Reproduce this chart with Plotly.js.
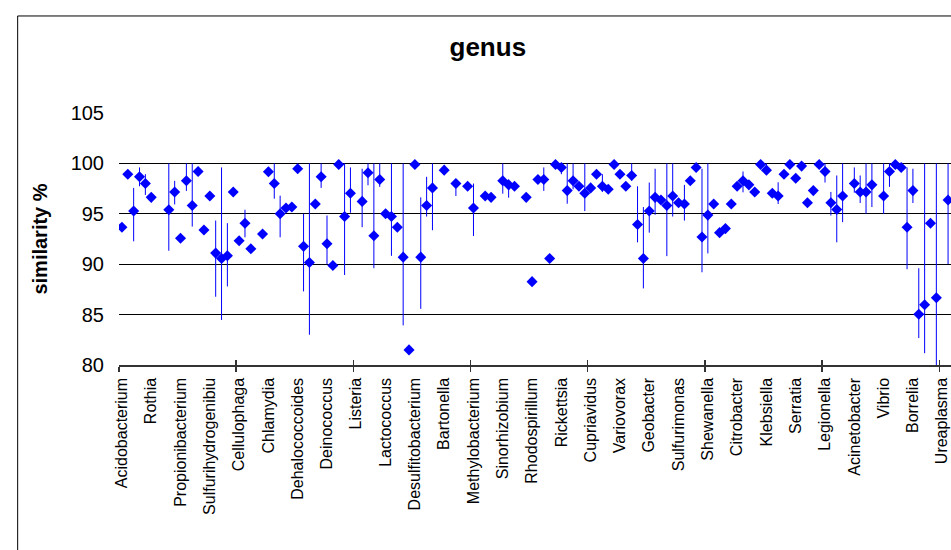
<!DOCTYPE html>
<html>
<head>
<meta charset="utf-8">
<script src="https://cdn.plot.ly/plotly-3.0.1.min.js"></script>
<style>html,body{margin:0;padding:0;background:#fff;}#chart{width:951px;height:550px;}</style>
</head>
<body>
<div id="chart"></div>
<script>
// Similarity % per genus (index = category position), null = no value
const similarity = [
  93.67, 98.93, 95.27, 98.67, 98.0, 96.63, null, null, 95.4, 97.17,
  92.57, 98.27, 95.83, 99.2, 93.4, 96.77, 91.1, 90.57, 90.83, 97.17,
  92.33, 94.07, 91.53, null, 93.0, 99.17, 98.0, 95.0, 95.57, 95.67,
  99.47, 91.77, 90.17, 95.97, 98.67, 92.03, 89.87, 99.9, 94.73, 97.03,
  null, 96.23, 99.07, 92.83, 98.4, 95.0, 94.73, 93.67, 90.7, 81.5,
  99.9, 90.7, 95.83, 97.57, null, 99.33, null, 98.0, null, 97.73,
  95.57, null, 96.77, 96.63, null, 98.27, 97.87, 97.73, null, 96.63,
  88.27, 98.4, 98.4, 90.57, 99.9, 99.6, 97.3, 98.27, 97.73, 97.03,
  97.57, 98.93, 97.73, 97.43, 99.9, 98.93, 97.73, 98.8, 93.93, 90.57,
  95.27, 96.63, 96.37, 95.83, 96.77, 96.1, 95.97, 98.27, 99.6, 92.7,
  94.87, 95.97, 93.13, 93.53, 95.97, 97.73, 98.27, 97.87, 97.17, 99.9,
  99.33, 97.03, 96.77, 98.93, 99.9, 98.53, 99.73, 96.1, 97.3, 99.9,
  99.2, 96.1, 95.43, 96.77, null, 98.0, 97.17, 97.17, 97.87, null,
  96.77, 99.2, 99.9, 99.6, 93.67, 97.3, 85.03, 85.97, 94.07, 86.67,
  null, 96.37
];
// Upper end of the range line (null = no line)
const upper = [
  null, null, 97.57, 99.6, 98.93, null, null, null, 100, 98.27,
  null, 100, 100, null, null, null, 94.33, 99.6, 94.07, null,
  null, 95.4, null, null, null, 99.6, 100, 96.8, null, null,
  null, 95.0, 100, null, 100, 94.83, null, null, 100, 99.6,
  null, 99.47, 100, 100, 100, null, 100, null, 100, null,
  null, 96.63, 98.67, 100, null, null, null, 98.4, null, null,
  98.0, null, null, null, null, 100, 98.4, null, null, null,
  null, null, 99.6, null, null, 100, 100, 100, null, 100,
  null, null, 98.93, null, null, null, null, 100, 97.73, 95.67,
  98.1, 99.47, null, 100, 100, null, 97.87, null, null, 99.47,
  100, null, null, null, null, null, 99.2, null, null, null,
  100, null, 98.13, null, null, null, null, null, 97.73, null,
  100, 97.17, 98.8, 100, null, 99.6, 98.8, 100, 100, null,
  100, 100, null, null, 99.6, 99.47, 89.6, 100, null, 100,
  null, 100
];
// Lower end of the range line (null = no line)
const lower = [
  null, null, 92.27, 97.73, 96.87, null, null, null, 91.33, 95.93,
  null, 97.27, 93.73, null, null, null, 86.77, 84.47, 87.8, null,
  null, 92.67, null, null, null, 98.9, 96.5, 92.67, null, null,
  null, 87.3, 83.0, null, 97.57, 90.0, null, null, 88.93, 95.1,
  null, 93.67, 97.83, 89.6, 97.67, null, 90.83, null, 83.93, null,
  null, 85.57, 94.73, 93.37, null, null, null, 96.77, null, null,
  92.8, null, null, null, null, 97.0, 96.6, null, null, null,
  null, null, 97.27, null, null, 98.93, 96.0, 97.43, null, 95.27,
  null, null, 97.17, null, null, null, null, 98.27, 92.17, 87.6,
  93.13, 94.9, null, 90.8, 94.73, null, 94.33, null, null, 89.2,
  91.07, null, null, null, null, null, 97.13, null, null, null,
  98.93, null, 95.97, null, null, null, null, null, 96.87, null,
  98.1, 94.83, 92.17, 94.17, null, 97.1, 96.07, 95.0, 95.67, null,
  95.0, 97.67, null, null, 89.5, 96.07, 82.67, 81.17, null, 79.6,
  null, 90.0
];
// Genus labels shown on the axis and the category they sit on
const genusLabels = ["Acidobacterium","Rothia","Propionibacterium","Sulfurihydrogenibiu","Cellulophaga","Chlamydia","Dehalococcoides","Deinococcus","Listeria","Lactococcus","Desulfitobacterium","Bartonella","Methylobacterium","Sinorhizobium","Rhodospirillum","Rickettsia","Cupriavidus","Variovorax","Geobacter","Sulfurimonas","Shewanella","Citrobacter","Klebsiella","Serratia","Legionella","Acinetobacter","Vibrio","Borrelia","Ureaplasma"];
const labelIndex = [0,5,10,15,20,25,30,35,40,45,50,55,60,65,70,75,80,85,90,95,100,105,110,115,120,125,130,135,140];
const yTicks = [80,85,90,95,100,105];
const boundaryTicks = [-0.5,19.5,39.5,59.5,79.5,99.5,119.5,139.5];

const xIdx = similarity.map((_, i) => i);
const plus = similarity.map((v, i) => (v !== null && upper[i] !== null) ? upper[i] - v : 0);
const minus = similarity.map((v, i) => (v !== null && lower[i] !== null) ? v - lower[i] : 0);

const FONT = "Liberation Sans, Arial, sans-serif";
const trace = {
  type: 'scatter', mode: 'markers', x: xIdx, y: similarity,
  marker: {symbol: 'diamond', size: 8.5, color: '#0000FF'},
  error_y: {type: 'data', symmetric: false, array: plus, arrayminus: minus,
            color: '#0000FF', thickness: 1, width: 0},
  hoverinfo: 'x+y', showlegend: false, cliponaxis: true
};
const XR = [-0.5, 141.5];
const layout = {
  width: 951, height: 550,
  margin: {l: 119, r: 0, t: 113, b: 185, pad: 0},
  paper_bgcolor: '#ffffff', plot_bgcolor: '#ffffff',
  font: {family: FONT, color: '#000'},
  title: {text: '<b>genus</b>', font: {size: 26, family: FONT, color: '#000'},
          x: 0.4433, xref: 'paper', xanchor: 'center', y: 1 - 47/550, yanchor: 'middle'},
  xaxis: {
    range: XR, tickmode: 'array', tickvals: labelIndex, ticktext: genusLabels,
    tickangle: -90, tickfont: {size: 16, family: FONT, color: '#000'},
    ticks: '', showgrid: false, zeroline: false,
    showline: true, linecolor: '#333', linewidth: 1.5,
    ticklabelstandoff: 5,
    minor: {tickmode: 'array', tickvals: boundaryTicks, ticks: 'outside', ticklen: 5, tickcolor: '#333', tickwidth: 1.5, showgrid: false}
  },
  xaxis2: {
    range: XR, overlaying: 'x', anchor: 'y', side: 'bottom',
    tickmode: 'array', tickvals: boundaryTicks, ticks: 'inside', ticklen: 5, tickcolor: '#333', tickwidth: 1.5,
    showticklabels: false, showgrid: false, zeroline: false, showline: false
  },
  yaxis: {
    range: [80, 105], tickmode: 'array', tickvals: yTicks,
    tickfont: {size: 20, family: FONT, color: '#000'},
    showgrid: true, gridcolor: '#000', gridwidth: 1, zeroline: false,
    showline: false, ticks: '', ticklabelstandoff: 14,
    title: {text: '<b>similarity %</b>', font: {size: 20, family: FONT, color: '#000'}, standoff: 17}
  },
  shapes: [
    {type: 'line', xref: 'paper', yref: 'paper', x0: -0.1218, x1: -0.1218, y0: 1.385, y1: -0.75, line: {color: '#000', width: 1}},
    {type: 'line', xref: 'paper', yref: 'paper', x0: -0.1218, x1: 1.2, y0: 1.385, y1: 1.385, line: {color: '#000', width: 1}}
  ]
};
const dummy = {type: 'scatter', x: [], y: [], xaxis: 'x2', yaxis: 'y', showlegend: false, hoverinfo: 'skip'};
Plotly.newPlot('chart', [trace, dummy], layout, {staticPlot: true, displayModeBar: false});
</script>
</body>
</html>
